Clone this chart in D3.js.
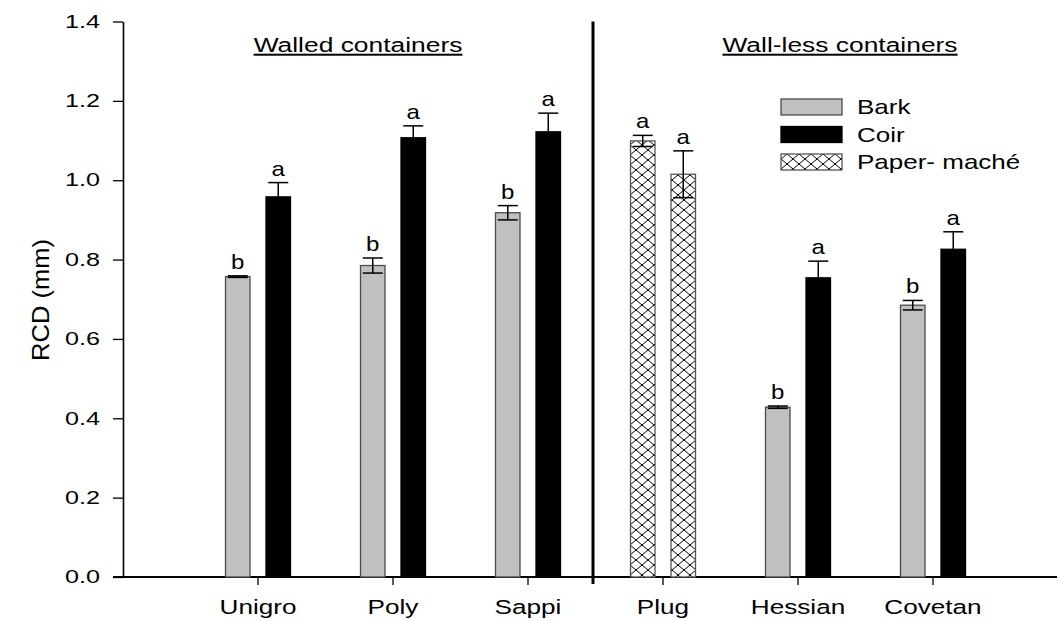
<!DOCTYPE html>
<html><head><meta charset="utf-8">
<script src="https://cdn.jsdelivr.net/npm/d3@7"></script>
<style>body{margin:0;background:#fff}svg{display:block;font-family:"Liberation Sans",Arial,sans-serif}</style>
</head><body><svg id="c" width="1058" height="621"></svg>
<script>
const categories = ["Unigro","Poly","Sappi","Plug","Hessian","Covetan"];
const firstValues  = [0.757,0.785,0.918,1.099,0.428,0.685];
const firstErrors  = [0.002,0.019,0.018,0.014,0.003,0.012];
const firstLetters = ["b","b","b","a","b","b"];
const firstTypes   = ["Bark","Bark","Bark","Paper- maché","Bark","Bark"];
const secondValues  = [0.958,1.107,1.122,1.015,0.754,0.826];
const secondErrors  = [0.036,0.030,0.047,0.059,0.042,0.044];
const secondLetters = ["a","a","a","a","a","a"];
const secondTypes   = ["Coir","Coir","Coir","Paper- maché","Coir","Coir"];
const legendItems = ["Bark","Coir","Paper- maché"];
const yTicks = [0,0.2,0.4,0.6,0.8,1.0,1.2,1.4];
const groupTitles = ["Walled containers","Wall-less containers"];

const svg = d3.select("#c");
const defs = svg.append("defs");
const pat = defs.append("pattern").attr("id","hatch").attr("patternUnits","userSpaceOnUse")
  .attr("width",12).attr("height",10);
pat.append("rect").attr("width",12).attr("height",10).attr("fill","#fff");
pat.append("path").attr("d","M0,0L12,10M12,0L0,10M-1,9L1,11M11,-1L13,1").attr("stroke","#000").attr("stroke-width",1).attr("fill","none");

const fills = {"Bark":"#c0c0c0","Coir":"#000","Paper- maché":"url(#hatch)"};
const strokes = {"Bark":"#4a4a4a","Coir":"#000","Paper- maché":"#555"};

function stext(parent, x, y, k, size, anchor, str){
  return parent.append("text").attr("transform",`translate(${x},${y}) scale(${k},1)`)
    .attr("text-anchor",anchor).attr("font-size",size).attr("fill","#000").text(str);
}

const y = d3.scaleLinear().domain([0,1.4]).range([577,21.5]);
const x = d3.scaleBand().domain(categories).range([190.5,1000.5]);
const xs = d3.scaleBand().domain([0,1]).range([-32.5,32.5]).paddingInner(0.395);

// y axis
const ky = 1.4;
const ya = svg.append("g").attr("transform","translate(123,0)")
  .call(d3.axisLeft(y).tickValues(yTicks).tickFormat(d3.format(".1f")).tickSize(10).tickSizeOuter(0).tickPadding(13));
ya.select(".domain").attr("stroke","#000").attr("stroke-width",1.6);
ya.selectAll(".tick line").attr("stroke","#000").attr("stroke-width",1.3);
ya.selectAll("text").attr("font-size",18).attr("fill","#000").attr("font-family","Liberation Sans, Arial, sans-serif")
  .attr("x",-23/ky).attr("transform",`scale(${ky},1)`);

// x axis
const kx = 1.34;
const xa = svg.append("g").attr("transform","translate(0,577)")
  .call(d3.axisBottom(x).tickSize(8).tickSizeOuter(0).tickPadding(15));
xa.select(".domain").remove();
xa.selectAll(".tick line").attr("stroke","#000").attr("stroke-width",1.3);
xa.selectAll("text").attr("font-size",19.5).attr("fill","#000").attr("font-family","Liberation Sans, Arial, sans-serif")
  .attr("transform",`scale(${kx},1)`);
svg.append("line").attr("x1",113).attr("x2",1057).attr("y1",y(0)).attr("y2",y(0)).attr("stroke","#000").attr("stroke-width",2);

// divider
const divX = x("Plug") - 2.5;
svg.append("line").attr("x1",divX).attr("x2",divX).attr("y1",y(1.4)).attr("y2",y(0)+7).attr("stroke","#000").attr("stroke-width",3);

// bars
const bars = [];
categories.forEach((c,i)=>{
  bars.push({c, s:0, v:firstValues[i], e:firstErrors[i], l:firstLetters[i], t:firstTypes[i]});
  bars.push({c, s:1, v:secondValues[i], e:secondErrors[i], l:secondLetters[i], t:secondTypes[i]});
});
const bw = xs.bandwidth();
const g = svg.append("g");
bars.forEach(b=>{
  const x0 = x(b.c) + x.bandwidth()/2 + xs(b.s);
  const cx = x0 + bw/2;
  g.append("rect").attr("x",x0).attr("y",y(b.v)).attr("width",bw).attr("height",y(0)-y(b.v))
    .attr("fill",fills[b.t]).attr("stroke",strokes[b.t]).attr("stroke-width",1.3);
  const hi = y(b.v+b.e), lo = y(b.v-b.e);
  g.append("line").attr("x1",cx).attr("x2",cx).attr("y1",hi).attr("y2",lo).attr("stroke","#000").attr("stroke-width",1.5);
  g.append("line").attr("x1",cx-10).attr("x2",cx+10).attr("y1",hi).attr("y2",hi).attr("stroke","#000").attr("stroke-width",1.5);
  g.append("line").attr("x1",cx-10).attr("x2",cx+10).attr("y1",lo).attr("y2",lo).attr("stroke","#000").attr("stroke-width",1.5);
  stext(g, cx, hi-7, 1.2, 20, "middle", b.l);
});

// group titles
[[groupTitles[0],358],[groupTitles[1],840]].forEach(([t,cx])=>{
  stext(svg, cx, 52, 1.32, 20, "middle", t).attr("text-decoration","underline");
});

// y label
svg.append("text").attr("transform","translate(49,300) rotate(-90) scale(1.11,1)").attr("text-anchor","middle")
  .attr("font-size",23).attr("fill","#000").text("RCD (mm)");

// legend
const lg = svg.append("g").attr("transform","translate(781,99)");
legendItems.forEach((k,i)=>{
  lg.append("rect").attr("x",0).attr("y",i*27.5).attr("width",61).attr("height",16)
    .attr("fill",fills[k]).attr("stroke",strokes[k]).attr("stroke-width",1.3);
  stext(lg, 76, i*27.5+15, 1.3, 20, "start", k);
});
</script></body></html>
